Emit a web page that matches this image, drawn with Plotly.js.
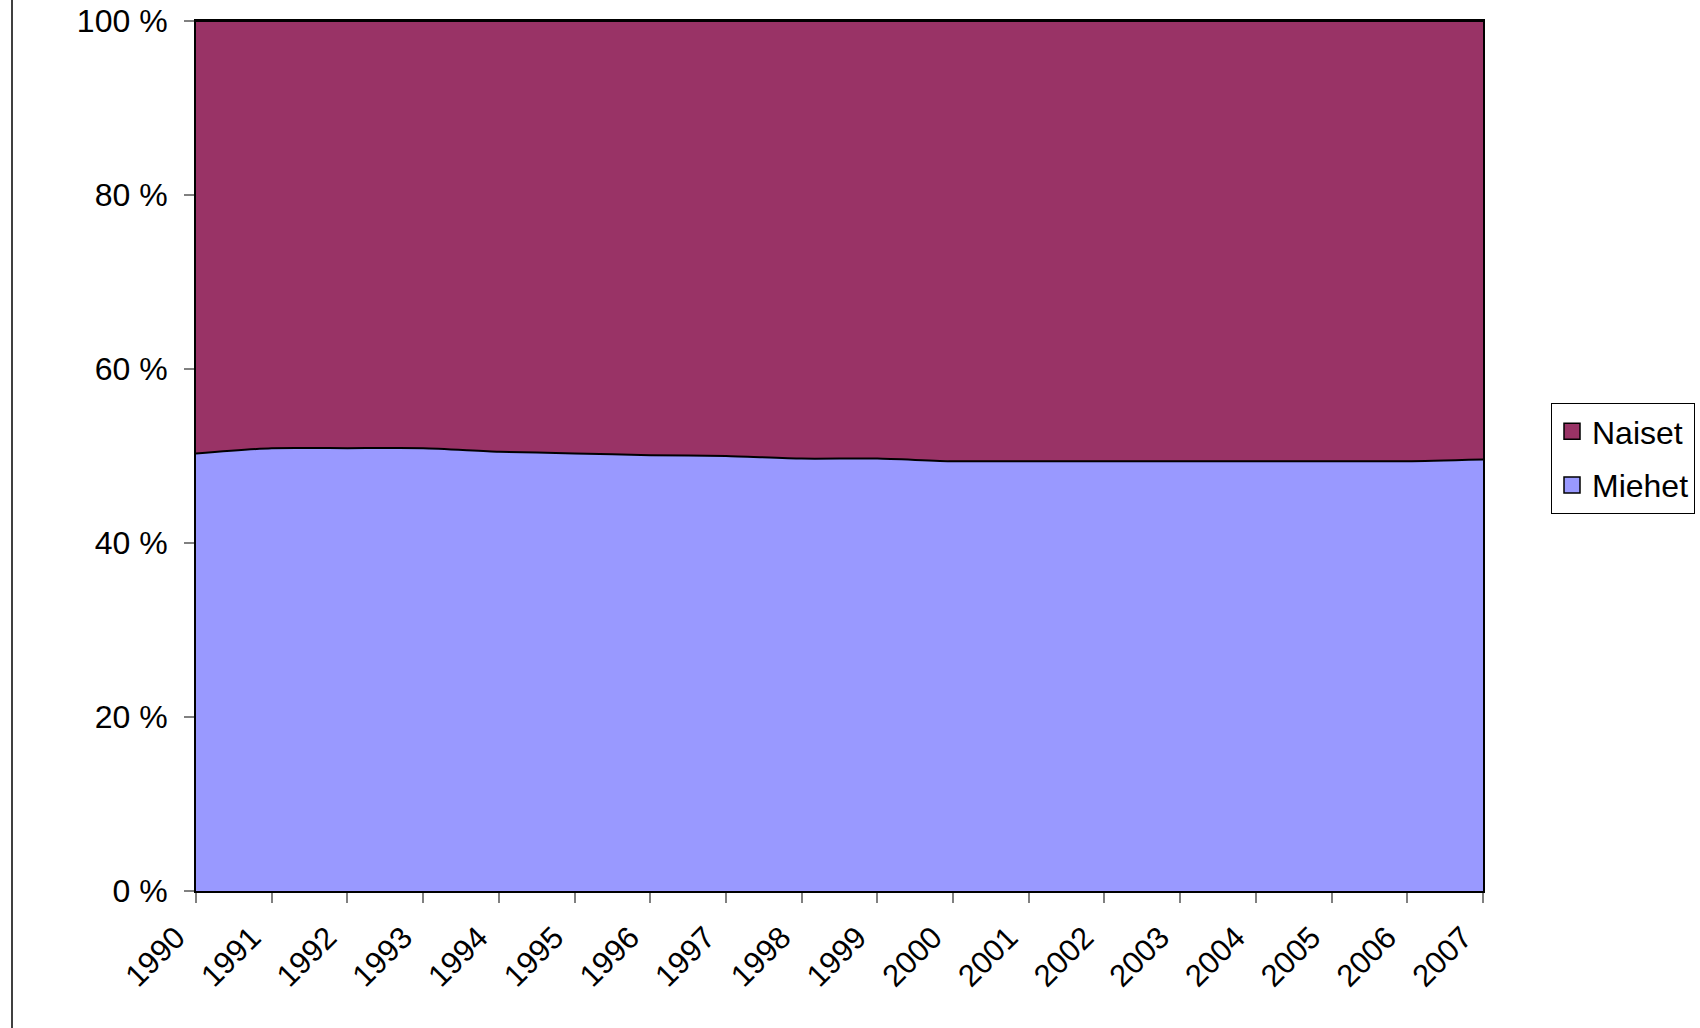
<!DOCTYPE html>
<html>
<head>
<meta charset="utf-8">
<script src="https://cdn.plot.ly/plotly-3.0.1.min.js"></script>
<style>
html,body{margin:0;padding:0;background:#fff;}
#chart{width:1700px;height:1028px;}
</style>
</head>
<body>
<div id="chart"></div>
<script>
const years = [1990,1991,1992,1993,1994,1995,1996,1997,1998,1999,2000,2001,2002,2003,2004,2005,2006,2007];
const yearLabels = years.map(String);
const miehet = [50.3,50.9,50.9,50.9,50.5,50.3,50.1,50.0,49.7,49.7,49.4,49.4,49.4,49.4,49.4,49.4,49.4,49.6];
const naiset = [49.7,49.1,49.1,49.1,49.5,49.7,49.9,50.0,50.3,50.3,50.6,50.6,50.6,50.6,50.6,50.6,50.6,50.4];
const yTicks = [0,20,40,60,80,100];
const seriesNames = ['Miehet','Naiset'];
const seriesColors = ['#9999FF','#993366'];

const font = {family:'Liberation Sans, Arial, sans-serif', color:'#000'};

const traces = [
  {x:years, y:miehet, name:seriesNames[0], type:'scatter', mode:'lines', stackgroup:'one', showlegend:false,
   fillcolor:seriesColors[0], line:{color:'#000', width:2, shape:'spline', smoothing:0.6}},
  {x:years, y:naiset, name:seriesNames[1], type:'scatter', mode:'lines', stackgroup:'one', showlegend:false,
   fillcolor:seriesColors[1], line:{color:'#000', width:2, shape:'spline', smoothing:0.6}},
  // legend-only entries (square swatches), Naiset listed first as in the reference
  {x:[null], y:[null], name:seriesNames[1], legendgroup:'n', type:'scatter', mode:'markers',
   marker:{symbol:'square', size:16, color:seriesColors[1], line:{color:'#000', width:1.5}}},
  {x:[null], y:[null], name:seriesNames[0], legendgroup:'m', type:'scatter', mode:'markers',
   marker:{symbol:'square', size:16, color:seriesColors[0], line:{color:'#000', width:1.5}}}
];

const layout = {
  width:1700, height:1028,
  margin:{l:196, r:217, t:21, b:137},
  paper_bgcolor:'#fff', plot_bgcolor:'#fff',
  font:Object.assign({size:30}, font),
  showlegend:true,
  legend:{xref:'container', yref:'container', x:1551/1700, y:1-403/1028, xanchor:'left', yanchor:'top',
    traceorder:'grouped', tracegroupgap:9,
    bgcolor:'#fff', bordercolor:'#000', borderwidth:1,
    font:Object.assign({size:32}, font), itemwidth:30},
  xaxis:{range:[1990,2007], tickvals:years, ticktext:yearLabels, tickangle:-45,
    ticks:'outside', ticklen:10, tickcolor:'#808080', tickwidth:2,
    showline:true, linecolor:'#000', linewidth:2, mirror:true,
    showgrid:false, zeroline:false, ticklabelshift:-20, ticklabelstandoff:4,
    tickfont:Object.assign({size:31}, font)},
  yaxis:{range:[0,100], tickvals:yTicks, ticktext:yTicks.map(v=>v+' %'),
    ticks:'outside', ticklen:10, tickcolor:'#808080', tickwidth:2,
    showline:true, linecolor:'#000', linewidth:2, mirror:true,
    showgrid:false, zeroline:false, ticklabelstandoff:10,
    tickfont:Object.assign({size:32}, font)},
  shapes:[{type:'line', xref:'paper', yref:'paper',
    x0:(12-196)/1287, x1:(12-196)/1287, y0:-137/870, y1:(870+21)/870,
    line:{color:'#000', width:1.5}}]
};

Plotly.newPlot('chart', traces, layout, {displayModeBar:false, staticPlot:true});
</script>
</body>
</html>
